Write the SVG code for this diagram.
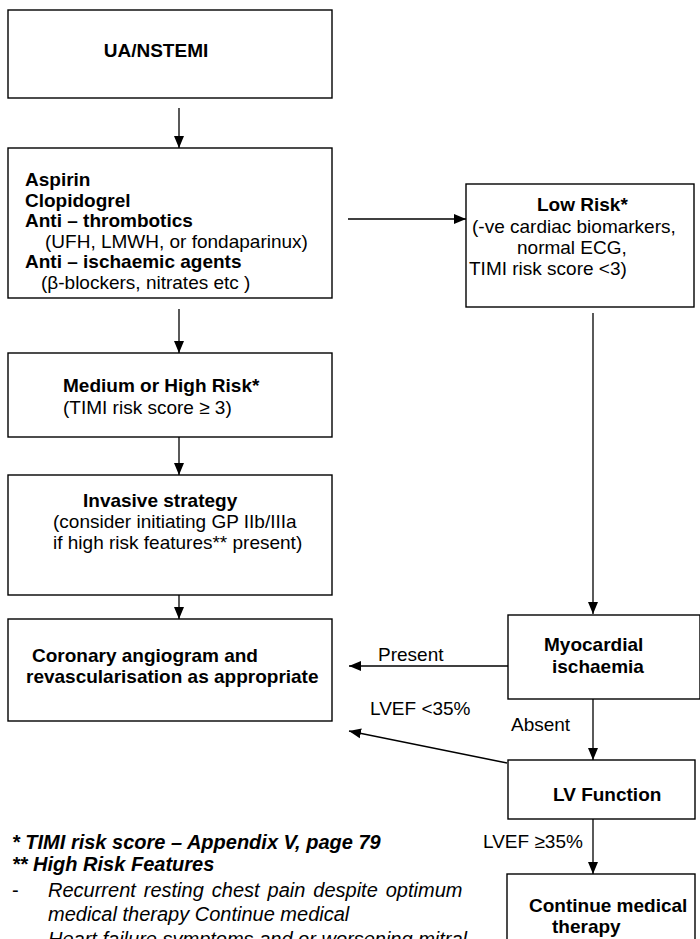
<svg xmlns="http://www.w3.org/2000/svg" width="700" height="939" viewBox="0 0 700 939">
<defs>
<marker id="ah" markerUnits="userSpaceOnUse" markerWidth="12" markerHeight="12" viewBox="0 0 12 12" refX="12" refY="6" orient="auto">
<path d="M0,1 L12,6 L0,11 Z" fill="#000"/>
</marker>
<style>
.box{fill:#fff;stroke:#000;stroke-width:1.4}
.t{font-family:"Liberation Sans",Arial,sans-serif;font-size:19px;fill:#000}
.b{font-weight:bold}
.i{font-style:italic}
.n{font-size:20px}
.c{stroke:#000;stroke-width:1.3;fill:none;marker-end:url(#ah)}
</style>
</defs>
<rect width="700" height="939" fill="#fff"/>
<g id="connectors">
<line class="c" x1="179" y1="108" x2="179" y2="148"/>
<line class="c" x1="348" y1="219" x2="466" y2="219"/>
<line class="c" x1="179" y1="309" x2="179" y2="353"/>
<line class="c" x1="179" y1="437" x2="179" y2="475"/>
<line class="c" x1="179" y1="595" x2="179" y2="619"/>
<line class="c" x1="593" y1="313" x2="593" y2="614"/>
<line class="c" x1="508" y1="666" x2="349" y2="666"/>
<line class="c" x1="507" y1="763" x2="349" y2="731"/>
<line class="c" x1="593" y1="699" x2="593" y2="760"/>
<line class="c" x1="593" y1="819" x2="593" y2="874"/>
<text class="t" x="378" y="661">Present</text>
<text class="t" x="370" y="715">LVEF &lt;35%</text>
<text class="t" x="511" y="731">Absent</text>
<text class="t" x="483" y="848">LVEF ≥35%</text>
</g>
<g id="n1">
<rect class="box" x="8" y="10" width="324" height="88"/>
<text class="t b" x="156" y="57" text-anchor="middle" font-size="21">UA/NSTEMI</text>
</g>
<g id="n2">
<rect class="box" x="8" y="148" width="324" height="150"/>
<text class="t b" x="25" y="186">Aspirin</text>
<text class="t b" x="25" y="207">Clopidogrel</text>
<text class="t b" x="25" y="227">Anti – thrombotics</text>
<text class="t" x="45" y="248">(UFH, LMWH, or fondaparinux)</text>
<text class="t b" x="25" y="268">Anti – ischaemic agents</text>
<text class="t" x="41" y="289">(β-blockers, nitrates etc )</text>
</g>
<g id="n3">
<rect class="box" x="466" y="184" width="228" height="123"/>
<text class="t b" x="537" y="211">Low Risk*</text>
<text class="t" x="472" y="233">(-ve cardiac biomarkers,</text>
<text class="t" x="517" y="254">normal ECG,</text>
<text class="t" x="469" y="275">TIMI risk score &lt;3)</text>
</g>
<g id="n4">
<rect class="box" x="8" y="353" width="324" height="84"/>
<text class="t b" x="63" y="392">Medium or High Risk*</text>
<text class="t" x="63" y="414">(TIMI risk score ≥ 3)</text>
</g>
<g id="n5">
<rect class="box" x="8" y="475" width="324" height="120"/>
<text class="t b" x="83" y="507">Invasive strategy</text>
<text class="t" x="53" y="528">(consider initiating GP IIb/IIIa</text>
<text class="t" x="53" y="549">if high risk features** present)</text>
</g>
<g id="n6">
<rect class="box" x="8" y="619" width="324" height="102"/>
<text class="t b" x="32" y="662">Coronary angiogram and</text>
<text class="t b" x="26" y="683">revascularisation as appropriate</text>
</g>
<g id="n7">
<rect class="box" x="508" y="615" width="192" height="84"/>
<text class="t b" x="544" y="651">Myocardial</text>
<text class="t b" x="552" y="673">ischaemia</text>
</g>
<g id="n8">
<rect class="box" x="508" y="760" width="187" height="59"/>
<text class="t b" x="553" y="801">LV Function</text>
</g>
<g id="n9">
<rect class="box" x="507" y="874" width="188" height="80"/>
<text class="t b" x="529" y="912">Continue medical</text>
<text class="t b" x="552" y="933">therapy</text>
</g>
<g id="notes">
<text class="t n b i" x="12" y="849">* TIMI risk score – Appendix V, page 79</text>
<text class="t n b i" x="12" y="871">** High Risk Features</text>
<text class="t n" x="12" y="897">-</text>
<text class="t n i" x="48" y="897" word-spacing="2.4">Recurrent resting chest pain despite optimum</text>
<text class="t n i" x="48" y="921">medical therapy Continue medical</text>
<text class="t n i" x="48" y="946">Heart failure symptoms and or worsening mitral</text>
</g>
</svg>
